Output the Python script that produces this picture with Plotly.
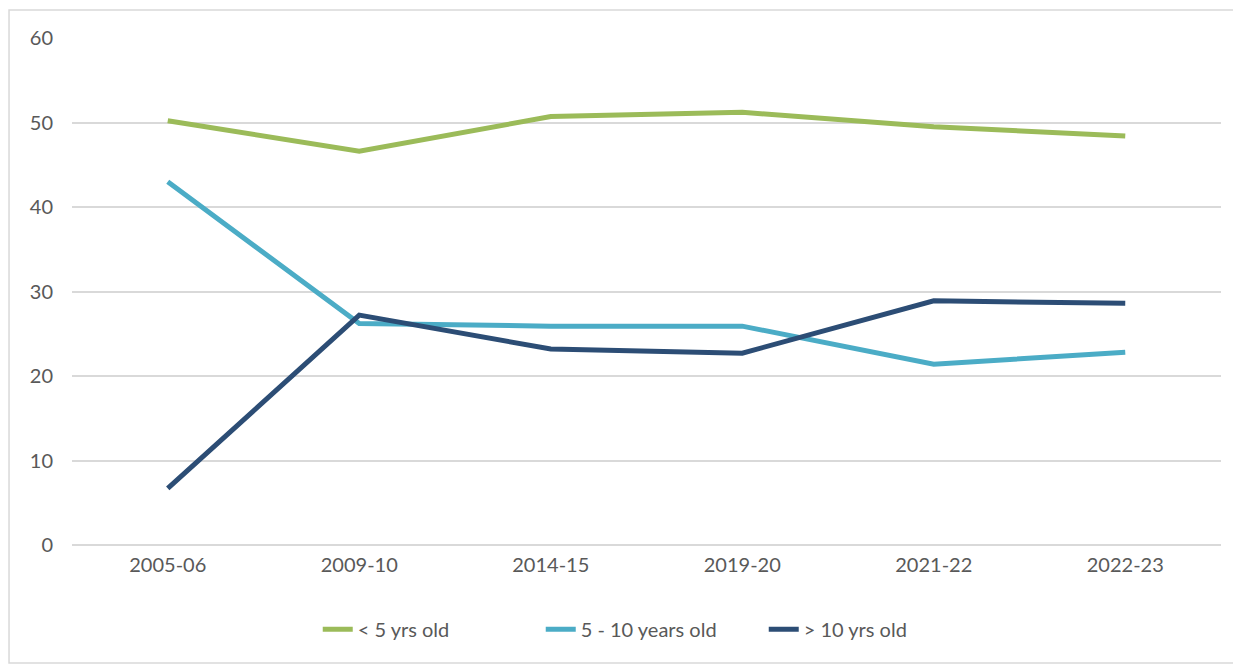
import plotly.graph_objects as go

categories = ["2005-06", "2009-10", "2014-15", "2019-20", "2021-22", "2022-23"]
under5 = [50.2, 46.6, 50.7, 51.2, 49.5, 48.4]
five_to_ten = [43.0, 26.2, 25.9, 25.9, 21.4, 22.8]
over10 = [6.7, 27.2, 23.2, 22.7, 28.9, 28.6]

series = [
    ("< 5 yrs old", under5, "#9BBB59"),
    ("5 - 10 years old", five_to_ten, "#4BACC6"),
    ("> 10 yrs old", over10, "#2C4D75"),
]

fig = go.Figure()
for name, vals, color in series:
    fig.add_trace(go.Scatter(x=categories, y=vals, name=name, mode="lines",
                             line=dict(color=color, width=5)))

font = dict(family="Lato, Carlito, Calibri, sans-serif", size=20, color="#595959")
fig.update_layout(
    width=1241, height=664,
    margin=dict(l=64, r=28, t=30, b=127),
    paper_bgcolor="white", plot_bgcolor="white",
    font=font,
    showlegend=True,
    legend=dict(orientation="h", x=0.505, xanchor="center", y=-0.166, yanchor="middle",
                font=font, itemwidth=30, traceorder="normal",
                entrywidth=178, entrywidthmode="pixels"),
    xaxis=dict(type="category", showgrid=False, showline=False, zeroline=False, ticks="",
               tickfont=font, range=[-0.5, 5.5], ticklabelstandoff=6),
    yaxis=dict(range=[0, 60], dtick=10, showgrid=True, gridcolor="#D9D9D9", gridwidth=1.5,
               zeroline=True, zerolinecolor="#D9D9D9", zerolinewidth=1.5,
               showline=False, ticks="", tickfont=font, ticklabelstandoff=18),
    shapes=[dict(type="rect", xref="paper", yref="paper",
                 x0=-0.0548, x1=1.0165, y0=-0.2327, y1=1.055,
                 line=dict(color="#D9D9D9", width=1.5), fillcolor="rgba(0,0,0,0)", layer="below")],
)
fig.write_html("out.html")
